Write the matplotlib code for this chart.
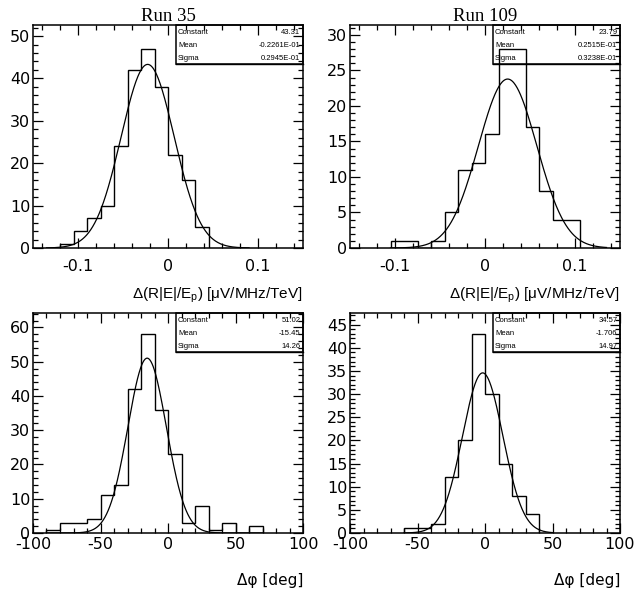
import numpy as np
import matplotlib
matplotlib.use("Agg")
import matplotlib.pyplot as plt
from matplotlib.ticker import MultipleLocator, FuncFormatter
from matplotlib.patches import Rectangle

# histogram data
edges_35_r = [-0.12, -0.105, -0.09, -0.075, -0.06, -0.045, -0.03, -0.015, 0.0, 0.015, 0.03, 0.045]
counts_35_r = [1, 4, 7, 10, 24, 42, 47, 38, 22, 16, 5]

edges_109_r = [-0.105, -0.09, -0.075, -0.06, -0.045, -0.03, -0.015, 0.0, 0.015, 0.03, 0.045, 0.06, 0.075, 0.09, 0.105]
counts_109_r = [1, 1, 0, 1, 5, 11, 12, 16, 28, 28, 17, 8, 4, 4]

edges_35_phi = [-90, -80, -70, -60, -50, -40, -30, -20, -10, 0, 10, 20, 30, 40, 50, 60, 70]
counts_35_phi = [1, 3, 3, 4, 11, 14, 42, 58, 36, 23, 3, 8, 1, 3, 0, 2]

edges_109_phi = [-60, -50, -40, -30, -20, -10, 0, 10, 20, 30, 40]
counts_109_phi = [1, 1, 2, 12, 20, 43, 30, 15, 8, 4]

# gaussian fit results (Constant, Mean, Sigma) and their printed strings
fit_35_r = (43.31, -0.2261e-01, 0.2945e-01)
fit_109_r = (23.79, 0.2515e-01, 0.3238e-01)
fit_35_phi = (51.02, -15.45, 14.26)
fit_109_phi = (34.57, -1.706, 14.97)
txt_35_r = ["43.31", "-0.2261E-01", "0.2945E-01"]
txt_109_r = ["23.79", "0.2515E-01", "0.3238E-01"]
txt_35_phi = ["51.02", "-15.45", "14.26"]
txt_109_phi = ["34.57", "-1.706", "14.97"]

plt.rcParams["font.family"] = ["DejaVu Sans"]
plt.rcParams["axes.unicode_minus"] = False
plt.rcParams["mathtext.fontset"] = "custom"
plt.rcParams["mathtext.rm"] = "Liberation Sans"

fig = plt.figure(figsize=(6.36, 5.9), dpi=100)
W, H = 636, 590


def make_ax(x0, y0, x1, y1):
    return fig.add_axes([x0 / W, 1 - y1 / H, (x1 - x0) / W, (y1 - y0) / H])


def draw(ax, edges, counts, fit, txt, xlim, ylim, xmaj, xmin, ymaj, ymin, frange, xpad):
    ax.stairs(counts, edges, color="black", lw=1.0, baseline=0)
    xs = np.linspace(frange[0], frange[1], 400)
    c, m, s = fit
    ax.plot(xs, c * np.exp(-0.5 * ((xs - m) / s) ** 2), color="black", lw=0.9)
    ax.set_xlim(*xlim)
    ax.set_ylim(*ylim)
    ax.xaxis.set_major_locator(MultipleLocator(xmaj))
    ax.xaxis.set_minor_locator(MultipleLocator(xmin))
    ax.yaxis.set_major_locator(MultipleLocator(ymaj))
    ax.yaxis.set_minor_locator(MultipleLocator(ymin))
    ax.xaxis.set_major_formatter(FuncFormatter(lambda v, p: "0" if abs(v) < 1e-9 else "%g" % v))
    ax.tick_params(which="both", direction="in", top=True, right=True, width=0.9, labelsize=11.5)
    ax.tick_params(which="major", length=7)
    ax.tick_params(which="minor", length=3.5)
    ax.tick_params(axis="x", pad=xpad)
    ax.tick_params(axis="y", pad=2)
    for sp in ax.spines.values():
        sp.set_linewidth(1.1)
    # stats box
    ax.add_patch(Rectangle((0.528, 0.825), 0.472, 0.175, transform=ax.transAxes,
                           fill=False, edgecolor="black", lw=1.1, clip_on=False))
    ax.plot([0.53, 1.0], [0.823, 0.823], transform=ax.transAxes, color="black", lw=1.0, clip_on=False)
    for i, name in enumerate(["Constant", "Mean", "Sigma"]):
        yy = 0.968 - i * 0.059
        ax.text(0.537, yy, name, transform=ax.transAxes, fontsize=5.5, va="center", ha="left",
                family="Liberation Sans")
        ax.text(0.99, yy, txt[i], transform=ax.transAxes, fontsize=5.5, va="center", ha="right",
                family="Liberation Sans")


ax1 = make_ax(33, 25, 303, 248)
draw(ax1, edges_35_r, counts_35_r, fit_35_r, txt_35_r, (-0.15, 0.15), (0, 52.6),
     0.1, 0.02, 10, 2, (-0.135, 0.09), 8)
ax2 = make_ax(350, 25, 620, 248)
draw(ax2, edges_109_r, counts_109_r, fit_109_r, txt_109_r, (-0.15, 0.15), (0, 31.4),
     0.1, 0.02, 5, 1, (-0.105, 0.135), 8)
ax3 = make_ax(33, 313, 303, 533)
draw(ax3, edges_35_phi, counts_35_phi, fit_35_phi, txt_35_phi, (-100, 100), (0, 64.2),
     50, 10, 10, 2, (-90, 70), 3)
ax4 = make_ax(350, 313, 620, 533)
draw(ax4, edges_109_phi, counts_109_phi, fit_109_phi, txt_109_phi, (-100, 100), (0, 47.5),
     50, 10, 5, 1, (-60, 50), 3)

ax1.set_title("Run 35", family="Liberation Serif", fontsize=13.5, pad=2)
ax2.set_title("Run 109", family="Liberation Serif", fontsize=13.5, pad=2)

rlabel = r"Δ(R|E|/E$_\mathrm{p}$) [μV/MHz/TeV]"
for ax in (ax1, ax2):
    ax.set_xlabel(rlabel, fontsize=11, loc="right", labelpad=8, family="Liberation Sans")
for ax in (ax3, ax4):
    ax.set_xlabel("Δφ [deg]", fontsize=11, loc="right", labelpad=15)

fig.savefig("out.png", dpi=100)
